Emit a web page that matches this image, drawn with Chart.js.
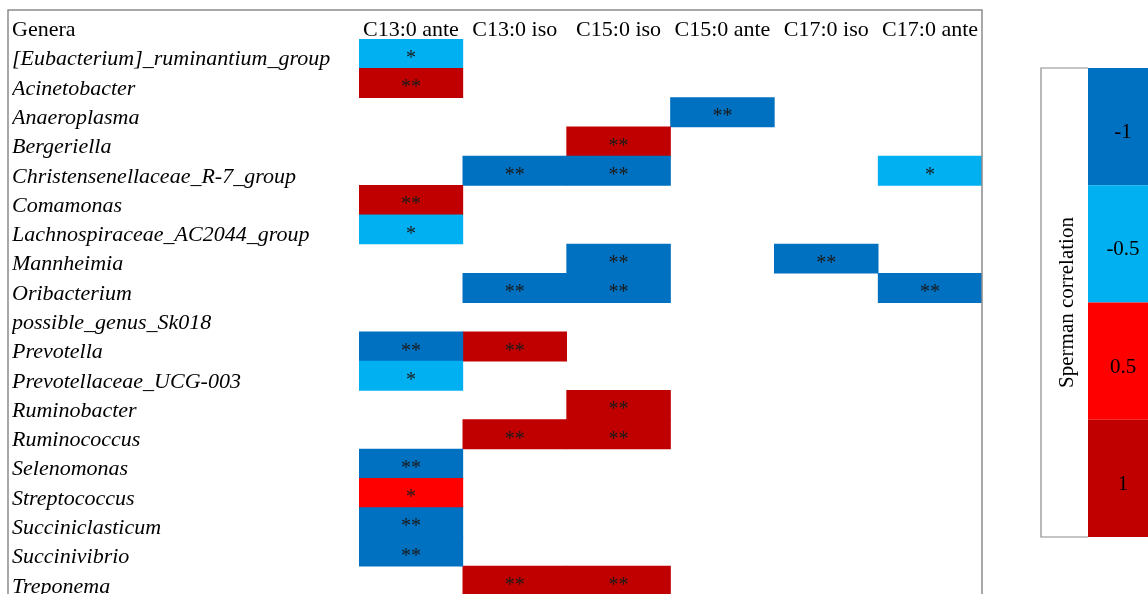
<!DOCTYPE html>
<html>
<head>
<meta charset="utf-8">
<script src="https://cdn.jsdelivr.net/npm/chart.js@4/dist/chart.umd.min.js"></script>
<style>
  html, body { margin: 0; padding: 0; background: #fff; overflow: hidden; }
  #wrap { width: 1148px; height: 620px; }
</style>
</head>
<body>
<div id="wrap"><canvas id="heat" width="1148" height="620"></canvas></div>
<script>
// rows of the table
const genera = [
  '[Eubacterium]_ruminantium_group', 'Acinetobacter', 'Anaeroplasma', 'Bergeriella',
  'Christensenellaceae_R-7_group', 'Comamonas', 'Lachnospiraceae_AC2044_group',
  'Mannheimia', 'Oribacterium', 'possible_genus_Sk018', 'Prevotella',
  'Prevotellaceae_UCG-003', 'Ruminobacter', 'Ruminococcus', 'Selenomonas',
  'Streptococcus', 'Succiniclasticum', 'Succinivibrio', 'Treponema'
];
// columns
const acids = ['C13:0 ante', 'C13:0 iso', 'C15:0 iso', 'C15:0 ante', 'C17:0 iso', 'C17:0 ante'];

// Spearman correlation class per genus (null = not significant)
const c13Ante = [-0.5, 1, null, null, null, 1, -0.5, null, null, null, -1, -0.5, null, null, -1, 0.5, -1, -1, null];
const c13Iso  = [null, null, null, null, -1, null, null, null, -1, null, 1, null, null, 1, null, null, null, null, 1];
const c15Iso  = [null, null, null, 1, -1, null, null, -1, -1, null, null, null, 1, 1, null, null, null, null, 1];
const c15Ante = [null, null, -1, null, null, null, null, null, null, null, null, null, null, null, null, null, null, null, null];
const c17Iso  = [null, null, null, null, null, null, null, -1, null, null, null, null, null, null, null, null, null, null, null];
const c17Ante = [null, null, null, null, -0.5, null, null, null, -1, null, null, null, null, null, null, null, null, null, null];
const columns = [c13Ante, c13Iso, c15Iso, c15Ante, c17Iso, c17Ante];

// colour scale
const scaleValues = [-1, -0.5, 0.5, 1];
const scaleColors = ['#0070C0', '#00B0F0', '#FF0000', '#C00000'];
const colorFor = v => scaleColors[scaleValues.indexOf(v)];

const SERIF = '"Liberation Serif", "Times New Roman", serif';
const FS = 22;
const HEAD_PAD = -4.5;

const starPlugin = {
  id: 'stars',
  afterDatasetsDraw(chart) {
    const ctx = chart.ctx;
    ctx.save();
    ctx.font = '20px ' + SERIF;
    ctx.fillStyle = '#1a1a1a';
    ctx.textAlign = 'center';
    ctx.textBaseline = 'middle';
    chart.data.datasets.forEach((ds, di) => {
      chart.getDatasetMeta(di).data.forEach((bar, ri) => {
        const v = columns[di][ri];
        if (v === null) return;
        ctx.fillText(Math.abs(v) === 1 ? '**' : '*', (bar.x + bar.base) / 2, bar.y + 5);
      });
    });
    ctx.restore();
  }
};

const framePlugin = {
  id: 'frame',
  afterDraw(chart) {
    const { ctx, chartArea } = chart;
    const xs = chart.scales.x;
    ctx.save();
    // table frame
    ctx.strokeStyle = '#8c8c8c';
    ctx.lineWidth = 1.5;
    ctx.beginPath();
    ctx.moveTo(8, chart.height);
    ctx.lineTo(8, 10);
    ctx.lineTo(chartArea.right, 10);
    ctx.lineTo(chartArea.right, chart.height);
    ctx.stroke();

    // header of the label column
    ctx.fillStyle = '#000';
    ctx.font = FS + 'px ' + SERIF;
    ctx.textAlign = 'left';
    ctx.textBaseline = 'middle';
    ctx.fillText('Genera', 12, xs.bottom - HEAD_PAD - FS * 0.6);

    // colour scale box
    const lx = 1041, ly = 68, lw = 47, lh = 469;
    const band = lh / scaleValues.length;
    ctx.beginPath();
    ctx.moveTo(lx + lw, ly);
    ctx.lineTo(lx, ly);
    ctx.lineTo(lx, ly + lh);
    ctx.lineTo(lx + lw, ly + lh);
    ctx.lineWidth = 1.2;
    ctx.stroke();
    ctx.font = '21px ' + SERIF;
    ctx.textAlign = 'center';
    scaleValues.forEach((v, i) => {
      ctx.fillStyle = colorFor(v);
      ctx.fillRect(lx + lw, ly + i * band, chart.width - lx - lw, band);
      ctx.fillStyle = '#000';
      ctx.fillText(String(v), 1123, ly + i * band + band / 2 + 6);
    });
    ctx.translate(1067, ly + lh / 2);
    ctx.rotate(-Math.PI / 2);
    ctx.fillText('Sperman correlation', 0, 0);
    ctx.restore();
  }
};

new Chart(document.getElementById('heat').getContext('2d'), {
  type: 'bar',
  data: {
    labels: genera,
    datasets: columns.map((vals, i) => ({
      label: acids[i],
      data: vals.map(v => v === null ? null : [i, i + 1]),
      backgroundColor: vals.map(v => v === null ? 'rgba(0,0,0,0)' : colorFor(v)),
      borderWidth: 0,
      barPercentage: 1,
      categoryPercentage: 1,
      grouped: false
    }))
  },
  options: {
    indexAxis: 'y',
    responsive: false,
    animation: false,
    layout: { padding: { left: 12, top: 10, right: 166, bottom: 24.6 } },
    plugins: { legend: { display: false }, tooltip: { enabled: false } },
    scales: {
      x: {
        type: 'linear',
        position: 'top',
        min: 0,
        max: acids.length,
        grid: { display: false, drawTicks: false },
        border: { display: false },
        afterBuildTicks: s => { s.ticks = acids.map((_, i) => ({ value: i + 0.5 })); },
        afterFit: s => { s.height = 29; },
        ticks: {
          autoSkip: false,
          maxRotation: 0,
          padding: HEAD_PAD,
          color: '#000',
          font: { family: SERIF, size: FS },
          callback: (v, i) => acids[i]
        }
      },
      y: {
        type: 'category',
        position: 'left',
        grid: { display: false, drawTicks: false },
        border: { display: false },
        afterFit: s => { s.width = 347; },
        ticks: {
          autoSkip: false,
          crossAlign: 'far',
          labelOffset: 6,
          color: '#000',
          font: { family: SERIF, size: FS, style: 'italic' }
        }
      }
    }
  },
  plugins: [starPlugin, framePlugin]
});
</script>
</body>
</html>
